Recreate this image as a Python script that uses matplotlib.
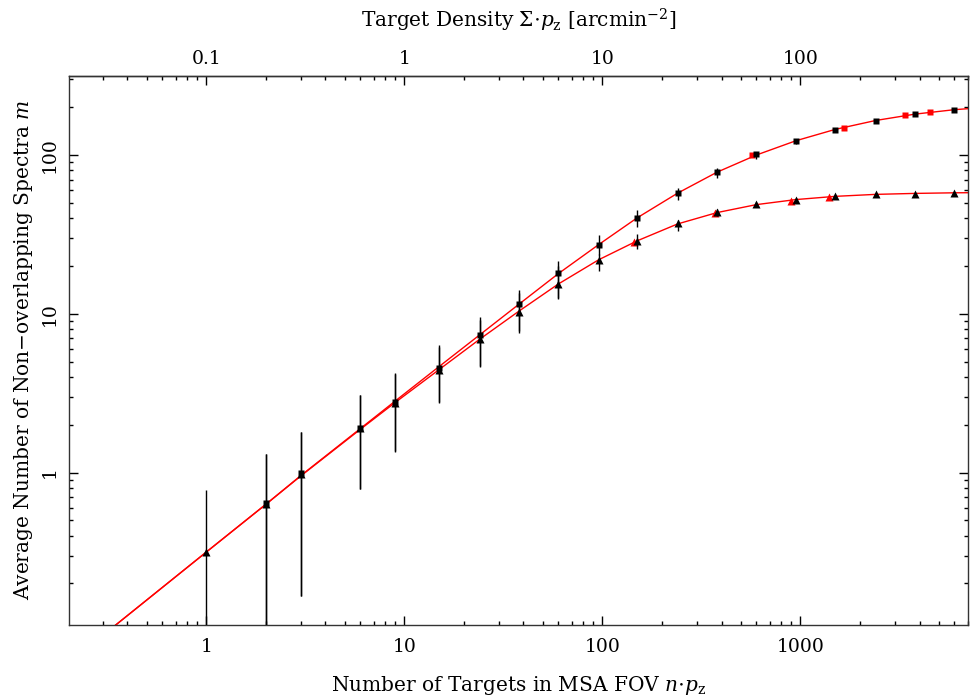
import matplotlib
matplotlib.use("Agg")
import matplotlib.pyplot as plt
from matplotlib.ticker import LogLocator, FixedLocator, FuncFormatter, NullFormatter

plt.rcParams['font.family'] = 'DejaVu Serif'
plt.rcParams['mathtext.fontset'] = 'dejavuserif'
plt.rcParams['font.size'] = 13.5
plt.rcParams['axes.labelsize'] = 14.5

# simulation results, black markers (triangles: lower set, squares: upper set)
n_tri = [1, 2, 3, 6, 9, 15, 24, 38, 60, 96, 150, 240, 380, 600, 950, 1500, 2400, 3800, 6000]
m_tri = [0.315, 0.63, 0.98, 1.90, 2.75, 4.45, 6.9, 10.3, 15.4, 21.9, 28.9, 37.1, 43.5, 48.9, 52.4, 54.8, 56.4, 57.2, 57.8]
tri_lo = [0.05, 0.05, 0.167, 0.79, 1.36, 2.74, 4.6, 7.6, 12.4, 18.6, 25.4, 33.4, 41.3, 47.5, 51.2, 54.0, 55.7, 56.6, 57.2]
tri_hi = [0.776, 1.31, 1.79, 3.07, 4.2, 6.2, 9.2, 13.6, 20.0, 23.9, 31.8, 39.1, 45.8, 50.3, 53.6, 55.6, 57.1, 57.8, 58.4]

n_sq = [2, 3, 6, 9, 15, 24, 38, 60, 96, 150, 240, 380, 600, 950, 1500, 2400, 3800, 6000]
m_sq = [0.64, 0.99, 1.92, 2.79, 4.55, 7.32, 11.5, 18.0, 27.3, 40.2, 57.5, 77.8, 101, 123, 144, 164, 182, 193]
sq_lo = [0.05, 0.167, 0.79, 1.35, 2.78, 4.71, 7.82, 12.5, 23.4, 35.3, 52.1, 72.0, 95, 118, 140, 160, 179, 190]
sq_hi = [1.31, 1.79, 3.07, 4.24, 6.36, 9.58, 14.1, 21.5, 31.5, 45.0, 62.0, 82.8, 105, 127, 148, 168, 185, 196]

# second run, red markers
n_sq_red = [573, 1660, 3390, 4540]
m_sq_red = [99.4, 148, 179, 187]
n_tri_red = [145, 372, 895, 1400]
m_tri_red = [28.4, 43.1, 51.6, 54.3]

# model curves
curve_n = [0.3, 1, 2, 3, 6, 9, 15, 24, 38, 60, 96, 150, 240, 380, 600, 950, 1500, 2400, 3800, 6000, 7500]
curve_sq = [0.094, 0.315, 0.63, 0.955, 1.89, 2.82, 4.65, 7.35, 11.5, 17.9, 27.3, 40.2, 57.5, 78, 100, 123, 145, 165, 181, 193, 197]
curve_tri = [0.094, 0.315, 0.63, 0.95, 1.87, 2.76, 4.45, 6.9, 10.4, 15.4, 21.9, 28.8, 36.8, 43.4, 48.7, 52.4, 54.9, 56.5, 57.3, 57.8, 57.9]

x_ticks = [1, 10, 100, 1000]
top_ticks = [0.1, 1, 10, 100]
y_ticks = [1, 10, 100]

fig = plt.figure(figsize=(9.71, 6.98), dpi=100, facecolor='white')
ax = fig.add_axes([0.0711, 0.1053, 0.9259, 0.7858])

ax.plot(curve_n, curve_sq, color='red', lw=1.0, zorder=2)
ax.plot(curve_n, curve_tri, color='red', lw=1.0, zorder=2)
ax.plot(n_sq_red, m_sq_red, 's', color='red', ms=4.3, mec='none', zorder=3)
ax.plot(n_tri_red, m_tri_red, '^', color='red', ms=5.5, mec='none', zorder=3)


def err(m, lo, hi):
    return [[a - b for a, b in zip(m, lo)], [c - a for a, c in zip(m, hi)]]


ax.errorbar(n_sq, m_sq, yerr=err(m_sq, sq_lo, sq_hi), fmt='s', color='black',
            ms=4.3, mec='none', elinewidth=1.0, capsize=0, zorder=4)
ax.errorbar(n_tri, m_tri, yerr=err(m_tri, tri_lo, tri_hi), fmt='^', color='black',
            ms=5.5, mec='none', elinewidth=1.0, capsize=0, zorder=4)

ax.set_xscale('log')
ax.set_yscale('log')
ax.set_xlim(0.203, 7030)
ax.set_ylim(0.1103, 314.5)

fmt = FuncFormatter(lambda v, p: f'{v:g}')
ax.xaxis.set_major_locator(FixedLocator(x_ticks))
ax.yaxis.set_major_locator(FixedLocator(y_ticks))
for axis in (ax.xaxis, ax.yaxis):
    axis.set_minor_locator(LogLocator(base=10, subs=range(2, 10)))
    axis.set_major_formatter(fmt)
    axis.set_minor_formatter(NullFormatter())

ax.tick_params(which='both', direction='in', top=False, right=True, width=1.0)
ax.tick_params(which='major', length=6.5)
ax.tick_params(which='minor', length=3.2)
ax.tick_params(axis='x', pad=9.5)
ax.tick_params(axis='y', pad=7.5, labelrotation=90)
for lab in ax.get_yticklabels():
    lab.set_va('center')

for sp in ax.spines.values():
    sp.set_linewidth(1.0)
    sp.set_color('#333333')

top = ax.secondary_xaxis('top', functions=(lambda x: x / 10, lambda x: x * 10))
top.xaxis.set_major_locator(FixedLocator(top_ticks))
top.xaxis.set_minor_locator(LogLocator(base=10, subs=range(2, 10)))
top.xaxis.set_major_formatter(fmt)
top.xaxis.set_minor_formatter(NullFormatter())
top.tick_params(which='both', direction='in', width=1.0, pad=6)
top.tick_params(which='major', length=6.5)
top.tick_params(which='minor', length=3.2)
top.spines['top'].set_linewidth(1.0)
top.spines['top'].set_color('#333333')

ax.set_xlabel(r'Number of Targets in MSA FOV $n{\cdot}p_{\rm z}$', labelpad=13)
ax.set_ylabel('Average Number of Non\u2212overlapping Spectra $m$', labelpad=4)
top.set_xlabel(r'Target Density $\Sigma{\cdot}p_{\rm z}$ [arcmin$^{-2}$]', labelpad=16)

fig.savefig('out.png', dpi=100, facecolor='white')
